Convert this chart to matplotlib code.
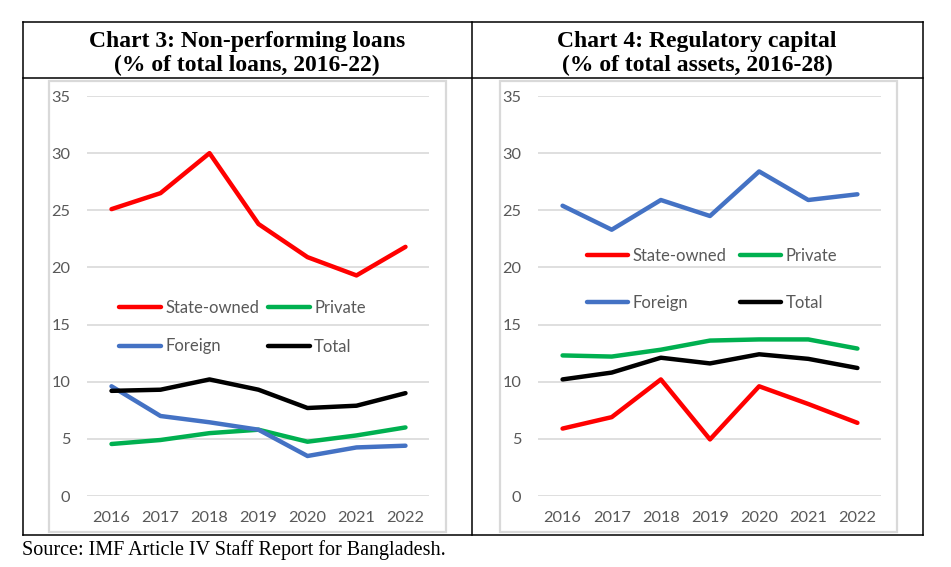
import matplotlib
matplotlib.use('Agg')
import matplotlib.pyplot as plt
from matplotlib.patches import Rectangle

# ---- data ----
years = [2016, 2017, 2018, 2019, 2020, 2021, 2022]

# Chart 3: NPL, % of total loans
npl_state = [25.1, 26.5, 30.0, 23.8, 20.9, 19.3, 21.8]
npl_private = [4.55, 4.9, 5.5, 5.8, 4.75, 5.3, 6.0]
npl_foreign = [9.6, 7.0, 6.45, 5.8, 3.5, 4.25, 4.4]
npl_total = [9.2, 9.3, 10.2, 9.3, 7.7, 7.9, 9.0]

# Chart 4: regulatory capital, % of total assets
cap_state = [5.9, 6.9, 10.2, 4.95, 9.6, 8.05, 6.4]
cap_private = [12.3, 12.2, 12.8, 13.6, 13.7, 13.7, 12.9]
cap_foreign = [25.4, 23.3, 25.9, 24.5, 28.4, 25.9, 26.4]
cap_total = [10.2, 10.8, 12.1, 11.6, 12.4, 12.0, 11.2]

yticks = [0, 5, 10, 15, 20, 25, 30, 35]
titles = [("Chart 3: Non-performing loans", "(% of total loans, 2016-22)"),
          ("Chart 4: Regulatory capital", "(% of total assets, 2016-28)")]
source = "Source: IMF Article IV Staff Report for Bangladesh."

colors = {'State-owned': '#FF0000', 'Private': '#00B050',
          'Foreign': '#4472C4', 'Total': '#000000'}

W, H = 951, 567
fig = plt.figure(figsize=(W / 100, H / 100), dpi=100)

# background axes in pixel coords for the table frame
bg = fig.add_axes([0, 0, 1, 1])
bg.set_xlim(0, W)
bg.set_ylim(H, 0)
bg.axis('off')

lw_frame = 1.1
for x in (23, 472, 923):
    bg.plot([x, x], [22, 535], color='black', lw=lw_frame)
for y in (22, 78, 535):
    bg.plot([23, 923], [y, y], color='black', lw=lw_frame)
for x0, x1 in ((49, 446), (500, 897)):
    bg.add_patch(Rectangle((x0, 81), x1 - x0, 532 - 81, fill=False,
                           edgecolor='#d9d9d9', lw=1.6))

for cx, (t1, t2) in zip((247, 697), titles):
    bg.text(cx, 47, t1, ha='center', va='baseline', family='Liberation Serif',
            fontweight='bold', fontsize=17)
    bg.text(cx, 71, t2, ha='center', va='baseline', family='Liberation Serif',
            fontweight='bold', fontsize=17)
bg.text(22, 555, source, ha='left', va='baseline', family='Liberation Serif',
        fontsize=14.5)


def px_axes(x0, x1, ytop, ybot):
    return fig.add_axes([x0 / W, 1 - ybot / H, (x1 - x0) / W, (ybot - ytop) / H])


def draw_panel(ax, state, private, foreign, total, leg_anchor, leg_spacing, col_sp):
    ax.plot(years, state, color=colors['State-owned'], lw=3.2, label='State-owned',
            solid_capstyle='round', zorder=3)
    ax.plot(years, private, color=colors['Private'], lw=3.2, label='Private',
            solid_capstyle='round', zorder=3)
    ax.plot(years, foreign, color=colors['Foreign'], lw=3.2, label='Foreign',
            solid_capstyle='round', zorder=3)
    ax.plot(years, total, color=colors['Total'], lw=3.2, label='Total',
            solid_capstyle='round', zorder=3)
    ax.set_xlim(2015.5, 2022.48)
    ax.set_ylim(0, 35)
    ax.set_yticks(yticks)
    ax.set_xticks(years)
    ax.grid(axis='y', color='#d9d9d9', lw=1.2)
    ax.set_axisbelow(True)
    for s in ax.spines.values():
        s.set_visible(False)
    ax.tick_params(length=0, labelcolor='#595959', labelsize=11.8)
    ax.tick_params(axis='y', pad=12)
    ax.tick_params(axis='x', pad=11)
    for lab in ax.get_xticklabels() + ax.get_yticklabels():
        lab.set_family('Lato')
    h, l = ax.get_legend_handles_labels()
    # order: State-owned, Foreign | Private, Total (column-major for ncol=2)
    order = [0, 2, 1, 3]
    leg = ax.legend([h[i] for i in order], [l[i] for i in order], ncol=2,
                    loc='upper left', bbox_to_anchor=leg_anchor, frameon=False,
                    borderpad=0, borderaxespad=0, handlelength=2.5,
                    handletextpad=0.25, columnspacing=col_sp,
                    labelspacing=leg_spacing,
                    prop={'family': 'Lato', 'size': 12})
    for t in leg.get_texts():
        t.set_color('#595959')
    for ln in leg.get_lines():
        ln.set_linewidth(3.2)


ax1 = px_axes(87, 429, 96, 496)
draw_panel(ax1, npl_state, npl_private, npl_foreign, npl_total,
           (0.095, 0.49), 1.35, 0.55)

ax2 = px_axes(538, 881, 96, 496)
draw_panel(ax2, cap_state, cap_private, cap_foreign, cap_total,
           (0.142, 0.62), 1.85, 0.8)

plt.savefig('out.png', dpi=100)
